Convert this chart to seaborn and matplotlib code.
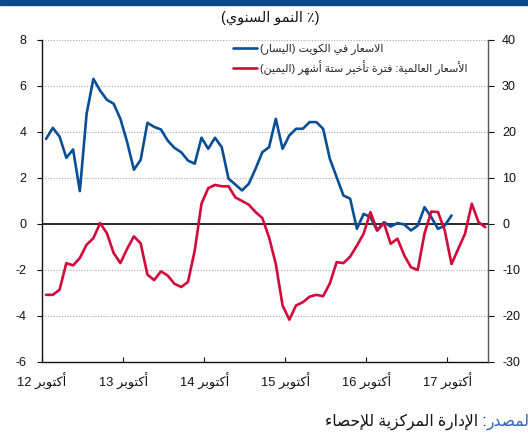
import re
import numpy as np
import pandas as pd
import matplotlib
matplotlib.use("Agg")
import matplotlib.pyplot as plt
from matplotlib.patches import Rectangle
import seaborn as sns

# ---------------- data ----------------
# monthly index, 0 = October 2012
kuwait_prices = [3.70, 4.18, 3.80, 2.88, 3.24, 1.43, 4.79, 6.31, 5.80, 5.40, 5.23, 4.57,
                 3.56, 2.36, 2.79, 4.40, 4.22, 4.11, 3.63, 3.31, 3.12, 2.76, 2.62, 3.75,
                 3.27, 3.75, 3.34, 1.97, 1.72, 1.46, 1.75, 2.40, 3.12, 3.34, 4.57, 3.27,
                 3.85, 4.14, 4.14, 4.43, 4.43, 4.14, 2.83, 2.04, 1.24, 1.10, -0.21, 0.44,
                 0.30, -0.28, 0.08, -0.11, 0.04, -0.02, -0.28, -0.07, 0.73, 0.30, -0.21,
                 -0.07, 0.37]
world_prices_lag6 = [-15.4, -15.4, -14.3, -8.5, -9.0, -7.4, -4.5, -3.1, 0.2, -2.0, -6.3, -8.5,
                     -5.4, -2.7, -4.2, -11.0, -12.2, -10.3, -11.2, -13.0, -13.7, -12.6, -5.8, 4.4,
                     7.8, 8.5, 8.2, 8.2, 5.8, 5.0, 4.2, 2.6, 1.3, -2.9, -8.7, -17.7,
                     -20.8, -17.7, -17.0, -15.8, -15.4, -15.7, -12.9, -8.3, -8.5, -7.1, -4.7, -2.1,
                     2.6, -1.4, 0.2, -4.3, -3.2, -6.8, -9.4, -10.0, -2.1, 2.7, 2.6, -1.4,
                     -8.7, -5.4, -2.1, 4.4, 0.4, -0.7]
x_tick_labels = ["أكتوبر 12", "أكتوبر 13", "أكتوبر 14", "أكتوبر 15", "أكتوبر 16", "أكتوبر 17"]
x_tick_months = [0, 12, 24, 36, 48, 60]
left_ticks = [-6, -4, -2, 0, 2, 4, 6, 8]
right_ticks = [-30, -20, -10, 0, 10, 20, 30, 40]
title_text = "(٪ النمو السنوي)"
legend_kuwait = "الاسعار في الكويت (اليسار)"
legend_world = "الأسعار العالمية: فترة تأخير ستة أشهر (اليمين)"
source_label = "المصدر"
source_text = ": الإدارة المركزية للإحصاء"

# ---------------- minimal Arabic shaping + RTL ordering ----------------
def _f(base, dual):
    return (base, base + 1, base + 2, base + 3) if dual else (base, base + 1)

ARABIC = {
    'ء': (0xFE80,), 'آ': _f(0xFE81, False), 'أ': _f(0xFE83, False), 'إ': _f(0xFE87, False),
    'ا': _f(0xFE8D, False), 'ب': _f(0xFE8F, True), 'ة': _f(0xFE93, False), 'ت': _f(0xFE95, True),
    'ث': _f(0xFE99, True), 'ج': _f(0xFE9D, True), 'ح': _f(0xFEA1, True), 'خ': _f(0xFEA5, True),
    'د': _f(0xFEA9, False), 'ذ': _f(0xFEAB, False), 'ر': _f(0xFEAD, False), 'ز': _f(0xFEAF, False),
    'س': _f(0xFEB1, True), 'ش': _f(0xFEB5, True), 'ص': _f(0xFEB9, True), 'ض': _f(0xFEBD, True),
    'ط': _f(0xFEC1, True), 'ظ': _f(0xFEC5, True), 'ع': _f(0xFEC9, True), 'غ': _f(0xFECD, True),
    'ف': _f(0xFED1, True), 'ق': _f(0xFED5, True), 'ك': _f(0xFED9, True), 'ل': _f(0xFEDD, True),
    'م': _f(0xFEE1, True), 'ن': _f(0xFEE5, True), 'ه': _f(0xFEE9, True), 'و': _f(0xFEED, False),
    'ى': _f(0xFEEF, False), 'ي': _f(0xFEF1, True),
}
LAM_ALEF = {'ا': (0xFEFB, 0xFEFC), 'أ': (0xFEF7, 0xFEF8), 'إ': (0xFEF9, 0xFEFA), 'آ': (0xFEF5, 0xFEF6)}


def shape_word(w):
    units = []
    i = 0
    while i < len(w):
        c = w[i]
        if c == 'ل' and i + 1 < len(w) and w[i + 1] in LAM_ALEF:
            units.append((c + w[i + 1], LAM_ALEF[w[i + 1]]))
            i += 2
        else:
            units.append((c, ARABIC.get(c)))
            i += 1
    out = []
    for j, (c, f) in enumerate(units):
        if f is None:
            out.append(c)
            continue
        prev = units[j - 1][1] if j > 0 else None
        nxt = units[j + 1][1] if j + 1 < len(units) else None
        pj = prev is not None and len(prev) == 4 and len(f) >= 2
        nj = nxt is not None and len(f) == 4 and len(nxt) >= 2
        if pj and nj:
            k = 3
        elif pj:
            k = 1
        elif nj:
            k = 2
        else:
            k = 0
        out.append(chr(f[k]))
    return ''.join(out)


def rtl(text):
    tokens = re.findall(r'[\u0621-\u064A]+|[0-9]+|\s+|.', text)
    out = []
    for t in reversed(tokens):
        if re.match(r'[\u0621-\u064A]', t):
            out.append(shape_word(t)[::-1])
        elif t == '(':
            out.append(')')
        elif t == ')':
            out.append('(')
        else:
            out.append(t)
    return ''.join(out)

# ---------------- style ----------------
sns.set_style("white")
plt.rcParams['font.family'] = ['Liberation Sans', 'DejaVu Sans']
FAM = ['Liberation Sans', 'DejaVu Sans']
BLUE = '#0a4e95'
RED = '#d3083b'

W, H = 528, 433
fig = plt.figure(figsize=(W / 100, H / 100), dpi=100)
fig.patches.append(Rectangle((0, 1 - 5 / H), 1, 5 / H, transform=fig.transFigure,
                             color='#0b4a8c', zorder=0))

ax = fig.add_axes([42 / W, 1 - 362 / H, 446 / W, 322 / H])
ax2 = ax.twinx()

df_k = pd.DataFrame({'month': np.arange(len(kuwait_prices)), 'value': kuwait_prices})
df_w = pd.DataFrame({'month': np.arange(len(world_prices_lag6)), 'value': world_prices_lag6})

sns.lineplot(data=df_k, x='month', y='value', ax=ax, color=BLUE, linewidth=1.9, legend=False)
sns.lineplot(data=df_w, x='month', y='value', ax=ax2, color=RED, linewidth=1.9, legend=False)

ax.set_xlim(-0.6, 65.4)
ax.set_ylim(min(left_ticks), max(left_ticks))
ax2.set_ylim(min(right_ticks), max(right_ticks))
ax.set_xlabel('')
ax.set_ylabel('')
ax2.set_ylabel('')

ax.set_yticks(left_ticks)
ax.set_yticklabels([str(v) for v in left_ticks])
ax2.set_yticks(right_ticks)
ax2.set_yticklabels([str(v) for v in right_ticks])
ax.set_xticks([m - 0.6 for m in x_tick_months])
ax.set_xticklabels([rtl(s) for s in x_tick_labels], family=FAM)

ax.yaxis.grid(True, linestyle=(0, (1, 1.5)), color='#a8a8a8', linewidth=0.8)
ax.xaxis.grid(False)
ax2.grid(False)
ax.axhline(0, color='#1a1a1a', linewidth=1.3, zorder=1.5)

for a in (ax, ax2):
    a.spines['top'].set_visible(False)
ax.spines['left'].set_color('#111111')
ax.spines['bottom'].set_color('#111111')
ax2.spines['left'].set_visible(False)
ax2.spines['bottom'].set_visible(False)
ax2.spines['right'].set_color('#555555')
for s in ('left', 'bottom'):
    ax.spines[s].set_linewidth(1.0)
ax2.spines['right'].set_linewidth(1.0)
ax.spines['right'].set_visible(False)

ax.tick_params(axis='y', direction='out', length=3.6, width=0.8, pad=7.5,
               labelsize=9, colors='#111111', left=True)
ax.tick_params(axis='x', direction='in', length=3.6, width=0.8, pad=8,
               labelsize=9.3, colors='#111111', bottom=True)
ax2.tick_params(axis='y', direction='out', length=4.3, width=0.8, pad=5.8,
                labelsize=9, colors='#111111', right=True)

# legend
h_k = ax.get_lines()[0]
h_w = ax2.get_lines()[0]
leg = ax2.legend([h_k, h_w], [rtl(legend_kuwait), rtl(legend_world)],
                 loc='upper left', bbox_to_anchor=(0.429, 0.99), frameon=False,
                 prop={'family': FAM, 'size': 7.9}, handlelength=2.2,
                 handletextpad=0.25, labelspacing=0.5, borderpad=0, borderaxespad=0)

# title
fig.text(270 / W, 1 - 18 / H, rtl(title_text), ha='center', va='center',
         fontsize=10.4, family=FAM, color='#111111')

# source line (the reference crops the first letter at the right edge)
t_blue = fig.text(534 / W, 1 - 422 / H, rtl(source_label), ha='right', va='center',
                  fontsize=11.2, family=FAM, color='#2d63b0')
fig.canvas.draw()
bb = t_blue.get_window_extent(renderer=fig.canvas.get_renderer())
fig.text(bb.x0 / W, 1 - 422 / H, rtl(source_text), ha='right', va='center',
         fontsize=11.2, family=FAM, color='#111111')

fig.savefig('out.png', dpi=100)
